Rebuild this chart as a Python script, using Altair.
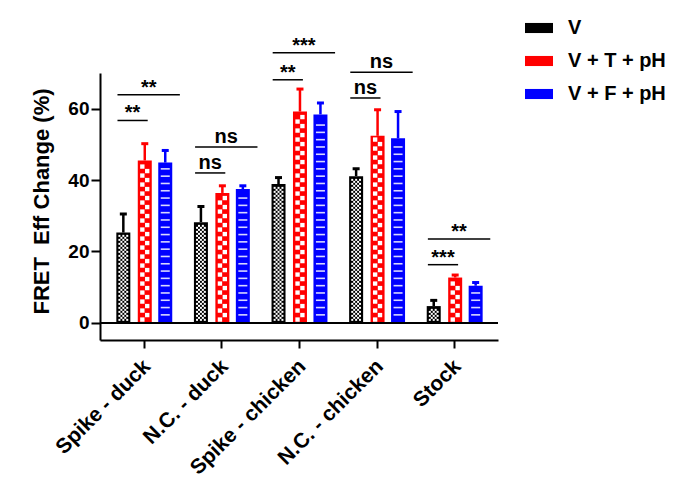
import json
import altair as alt
import pandas as pd

# ---------------- data ----------------
categories = ["Spike - duck", "N.C. - duck", "Spike - chicken", "N.C. - chicken", "Stock"]
series = ["V", "V + T + pH", "V + F + pH"]

v_mean = [25.3, 28.2, 38.9, 41.1, 4.7]
v_err = [5.2, 4.4, 1.8, 2.1, 1.6]
t_mean = [45.5, 36.4, 59.2, 52.4, 12.7]
t_err = [4.7, 2.0, 6.3, 7.3, 0.7]
f_mean = [44.9, 37.5, 58.4, 51.7, 10.4]
f_err = [3.4, 0.9, 3.2, 7.5, 0.9]

sig_short_y = [56.7, 42.0, 68.1, 63.0, 16.3]
sig_short_label = ["**", "ns", "**", "ns", "***"]
sig_long_y = [63.9, 49.3, 75.7, 70.2, 23.5]
sig_long_label = ["**", "ns", "***", "ns", "**"]

y_ticks = [0, 20, 40, 60]
y_title = "FRET\u00a0 Eff Change (%)"

# ---------------- layout / style ----------------
FONT = "Liberation Sans"
W, H = 398, 267
X_DOMAIN = [-0.5, 4.5]
Y_DOMAIN = [-4.8, 70]
PXU_X = W / (X_DOMAIN[1] - X_DOMAIN[0])
PXU_Y = H / (Y_DOMAIN[1] - Y_DOMAIN[0])
GROUP_OFF_PX = [-21, 1, 22]
COLORS = ["#000000", "#ff0000", "#0000ff"]
BAR_W = 14

means = [v_mean, t_mean, f_mean]
errs = [v_err, t_err, f_err]

rows = []
for s, name in enumerate(series):
    for i, cat in enumerate(categories):
        m, e = means[s][i], errs[s][i]
        rows.append(dict(cat=cat, series=name, s=s, mean=m, top=m + e,
                         xpos=i + GROUP_OFF_PX[s] / PXU_X, col=COLORS[s]))
bars = pd.DataFrame(rows)

# fill patterns derived from the bar heights
pv, pt, pf = [], [], []
for r in rows:
    hpx = r["mean"] * PXU_Y
    base = r["xpos"]
    if r["s"] == 0:
        k = 0
        yc = 3.0
        while yc + 1 <= hpx - 2:
            for c, cp in enumerate([-4, -2, 0, 2, 4]):
                if (k + c) % 2 == 0:
                    pv.append(dict(x=base + cp / PXU_X, y=yc / PXU_Y))
            k += 1
            yc += 2.0
    elif r["s"] == 1:
        k = 0
        yc = 3.3
        while yc + 2.2 <= hpx - 1.5:
            cp = -2.5 if k % 2 == 0 else 2.5
            pt.append(dict(x=base + cp / PXU_X, y=yc / PXU_Y))
            k += 1
            yc += 4.5
    else:
        yc = 8.0
        while yc <= hpx - 4:
            pf.append(dict(x=base, y=yc / PXU_Y))
            yc += 7.3
pv, pt, pf = pd.DataFrame(pv), pd.DataFrame(pt), pd.DataFrame(pf)

sig_rows = []
for i in range(len(categories)):
    x1 = i - 27 / PXU_X
    sig_rows.append(dict(x1=x1, x2=i + 4 / PXU_X, y=sig_short_y[i], label=sig_short_label[i]))
    sig_rows.append(dict(x1=x1, x2=i + 37 / PXU_X, y=sig_long_y[i], label=sig_long_label[i]))
sig = pd.DataFrame(sig_rows)
sig["xc"] = (sig["x1"] + sig["x2"]) / 2

xs = alt.Scale(domain=X_DOMAIN, nice=False, zero=False)
ys = alt.Scale(domain=Y_DOMAIN, nice=False, zero=False)

label_expr = json.dumps(categories) + "[datum.value]"

x_axis = alt.Axis(values=[0, 1, 2, 3, 4], labelExpr=label_expr, labelAngle=315,
                  labelAlign="right", labelBaseline="middle", labelFontSize=21,
                  labelFont=FONT, labelFontWeight="bold", labelPadding=15,
                  labelOffset=3, labelColor="black", tickSize=8, tickWidth=2,
                  tickColor="black", domainWidth=2, domainColor="black",
                  grid=False, title=None, labelOverlap=False, labelBound=False)
y_axis = alt.Axis(values=y_ticks, format="d", labelFontSize=19, labelFont=FONT,
                  labelFontWeight="bold", labelColor="black", labelPadding=2,
                  tickSize=9, tickWidth=2, tickColor="black", domainWidth=2,
                  domainColor="black", grid=False, title=y_title,
                  titleFont=FONT, titleFontSize=22, titleFontWeight="bold",
                  titleColor="black", titleX=-59, titleY=128, titleAngle=270,
                  titleAlign="center", titleBaseline="middle")


def X(field):
    return alt.X(field, scale=xs, axis=x_axis, title=None)


def Y(field):
    return alt.Y(field, scale=ys, axis=y_axis, title=y_title)


legend = alt.Legend(title=None, orient="none", legendX=425, legendY=-59,
                    symbolType="M-1,-0.36H1V0.36H-1Z", symbolSize=784,
                    symbolStrokeWidth=0, symbolOpacity=1, labelFontSize=20,
                    labelFont=FONT, labelFontWeight="bold", labelColor="black",
                    labelOffset=15, rowPadding=9, padding=0)

base_bars = alt.Chart(bars)

bar_layer = base_bars.mark_bar(size=BAR_W, opacity=1).encode(
    x=X("xpos:Q"),
    y=Y("mean:Q"),
    y2=alt.datum(0),
    color=alt.Color("series:N", scale=alt.Scale(domain=series, range=COLORS), legend=legend),
)

zero_rule = alt.Chart(bars).mark_rule(color="black", strokeWidth=1.5).encode(
    y=alt.Y(datum=0, scale=ys, axis=y_axis, title=y_title)
)

pat_v = alt.Chart(pv).mark_square(size=4, color="white", opacity=1).encode(
    x=X("x:Q"), y=Y("y:Q"))
pat_t = alt.Chart(pt).mark_square(size=19, color="white", opacity=1).encode(
    x=X("x:Q"), y=Y("y:Q"))
pat_f = alt.Chart(pf).mark_tick(orient="horizontal", size=9, thickness=1.6,
                                color="#d8d8ff", opacity=1).encode(
    x=X("x:Q"), y=Y("y:Q"))

err_stem = base_bars.mark_rule(strokeWidth=2.5).encode(
    x=X("xpos:Q"),
    y=Y("mean:Q"),
    y2="top:Q",
    color=alt.Color("col:N", scale=None),
)
err_cap = base_bars.mark_tick(orient="horizontal", size=7, thickness=3, opacity=1).encode(
    x=X("xpos:Q"),
    y=Y("top:Q"),
    color=alt.Color("col:N", scale=None),
)

sig_lines = alt.Chart(sig).mark_rule(color="black", strokeWidth=1.5).encode(
    x=X("x1:Q"),
    x2="x2:Q",
    y=Y("y:Q"),
)
sig_ns = alt.Chart(sig).transform_filter("datum.label == 'ns'").mark_text(
    font=FONT, fontSize=20, fontWeight="bold", color="black", baseline="alphabetic",
    dy=-4).encode(x=X("xc:Q"), y=Y("y:Q"), text="label:N")
sig_star = alt.Chart(sig).transform_filter("datum.label != 'ns'").mark_text(
    font=FONT, fontSize=20, fontWeight="bold", color="black", baseline="alphabetic",
    dy=-1).encode(x=X("xc:Q"), y=Y("y:Q"), text="label:N")

chart = alt.layer(
    bar_layer, pat_v, pat_t, pat_f, err_stem, err_cap, zero_rule,
    sig_lines, sig_ns, sig_star
).properties(
    width=W, height=H,
    autosize=alt.AutoSizeParams(type="none"),
    padding={"left": 100, "top": 73, "right": 202, "bottom": 157},
).configure(background="white").configure_view(stroke=None)

chart.save("out.html", embed_options={"renderer": "svg", "actions": False})
